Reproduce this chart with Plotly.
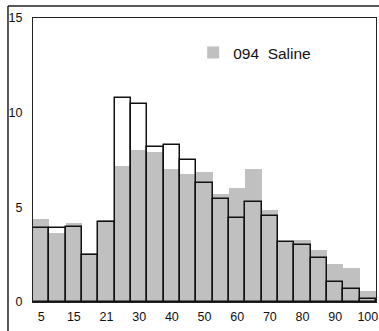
import plotly.graph_objects as go

bin_pos = list(range(1, 22))
tick_pos = [1, 3, 5, 7, 9, 11, 13, 15, 17, 19, 21]
tick_text = ["5", "15", "21", "30", "40", "50", "60", "70", "80", "90", "100"]

saline = [4.40, 3.67, 4.18, 2.60, 4.31, 7.16, 8.05, 7.93, 7.03, 6.77, 6.88,
          5.71, 6.03, 7.03, 4.87, 3.15, 3.29, 2.76, 2.02, 1.77, 0.60]
treated = [3.89, 3.89, 3.97, 2.48, 4.25, 10.77, 10.46, 8.21, 8.28, 7.49, 6.28,
           5.45, 4.43, 5.26, 4.54, 3.17, 3.01, 2.32, 1.06, 0.69, 0.16]

fig = go.Figure()
fig.add_trace(go.Bar(
    x=bin_pos, y=saline, name="094  Saline",
    marker=dict(color="#c0c0c0", line=dict(width=0)),
    width=1.0,
))
fig.add_trace(go.Bar(
    x=bin_pos, y=treated, name="treated", showlegend=False,
    marker=dict(color="rgba(0,0,0,0)", line=dict(color="#111111", width=1.5)),
    width=1.0,
))

fig.update_layout(
    width=379, height=331,
    margin=dict(l=33, r=3, t=18, b=29),
    paper_bgcolor="white", plot_bgcolor="white",
    barmode="overlay", bargap=0,
    font=dict(family="Liberation Sans, Arial, sans-serif", size=12.5, color="#111111"),
    showlegend=True,
    legend=dict(x=0.467, y=0.877, xanchor="left", yanchor="middle",
                bgcolor="rgba(0,0,0,0)", font=dict(size=15.5)),
    xaxis=dict(range=[0.5, 21.5], tickvals=tick_pos, ticktext=tick_text,
               showgrid=False, zeroline=False, showline=True, mirror=True,
               linecolor="#222222", linewidth=1, ticks="", ticklabelstandoff=3,
               automargin=False),
    yaxis=dict(range=[0, 15], tickvals=[0, 5, 10, 15],
               showgrid=False, zeroline=False, showline=True, mirror=True,
               linecolor="#222222", linewidth=1, ticks="", ticklabelstandoff=7,
               automargin=False),
)

# outer frame (top and left edges)
fig.add_shape(type="line", xref="paper", yref="paper",
              x0=-0.0729, x1=1.01, y0=1.0423, y1=1.0423,
              line=dict(color="#222222", width=1.5))
fig.add_shape(type="line", xref="paper", yref="paper",
              x0=-0.0729, x1=-0.0729, y0=1.0423, y1=-0.11,
              line=dict(color="#222222", width=1.5))

fig.write_html("out.html", config={"displayModeBar": False},
               post_script="document.body.style.margin='0';document.body.style.overflow='hidden';")
